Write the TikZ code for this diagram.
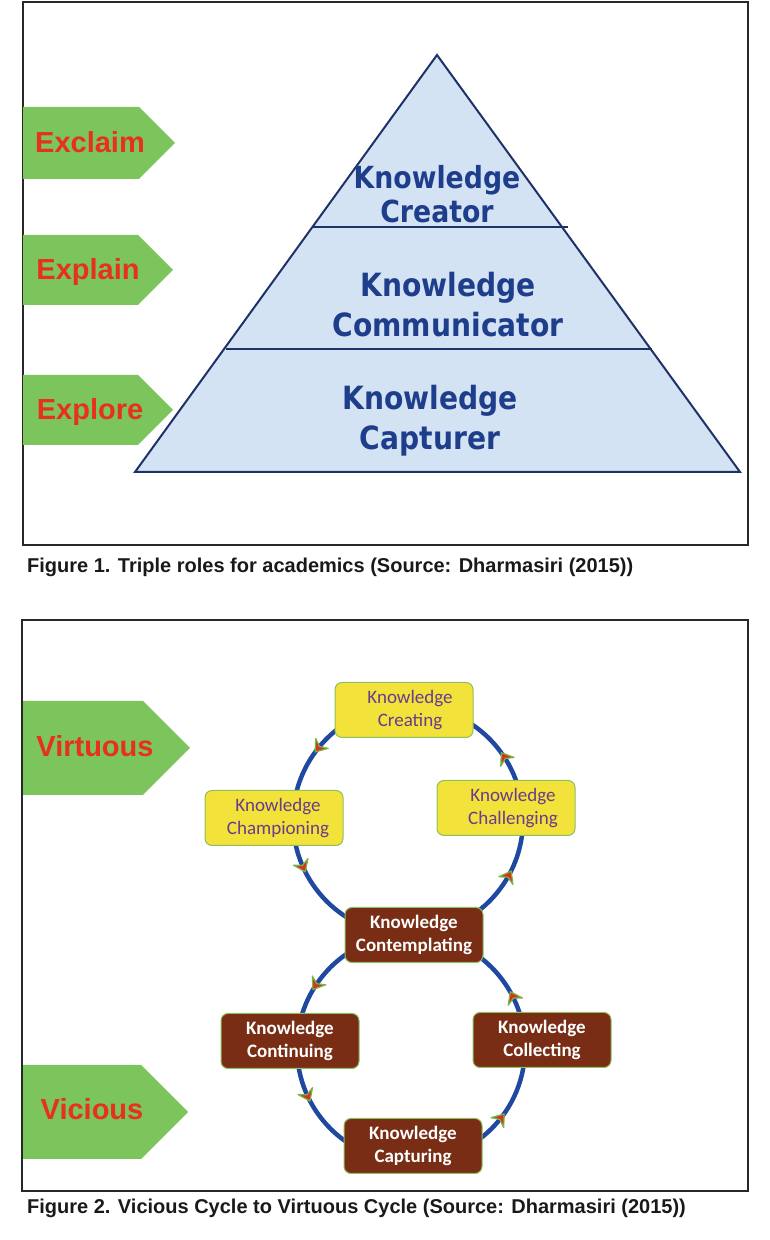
\documentclass[tikz,border=0pt]{standalone}
\usepackage{fontspec}
\usetikzlibrary{decorations.markings}
\newfontfamily\pyrfont[FakeStretch=0.88]{DejaVu Sans}
\newfontfamily\lblfont{Liberation Sans}
\newfontfamily\cycfont{Carlito}
\newfontfamily\capfont{Liberation Sans}
\definecolor{framec}{RGB}{40,40,40}
\definecolor{grn}{RGB}{124,196,92}
\definecolor{redtxt}{RGB}{232,48,30}
\definecolor{pyrfill}{RGB}{212,227,243}
\definecolor{pyrline}{RGB}{30,50,105}
\definecolor{pyrtxt}{RGB}{30,62,140}
\definecolor{ringblue}{RGB}{32,72,160}
\definecolor{yel}{RGB}{242,226,58}
\definecolor{boxedge}{RGB}{140,192,92}
\definecolor{purp}{RGB}{105,60,140}
\definecolor{brn}{RGB}{120,45,20}
\definecolor{arrred}{RGB}{215,50,30}
\definecolor{arrgrn}{RGB}{120,180,70}
\begin{document}
\begin{tikzpicture}[x=1pt,y=1pt,
  framebox/.style={draw=framec,line width=2pt},
  greenarrow/.style={fill=grn},
  lbl/.style={font=\lblfont\bfseries\fontsize{29}{32}\selectfont,text=redtxt,anchor=base,inner sep=0pt},
  pyrtext/.style={font=\pyrfont\bfseries\fontsize{32}{40}\selectfont,text=pyrtxt,align=center,inner sep=0pt},
  ring/.style={draw=ringblue,line width=4.5pt},
  mk/.style={postaction={decorate,decoration={markings,mark=at position #1 with {\filldraw[fill=arrred,draw=arrgrn,line width=1.2pt,line join=round] (5,0) -- (-6,8) -- (-2,0) -- (-6,-8) -- cycle;}}}},
  yelbox/.style={rectangle,rounded corners=7pt,fill=yel,draw=boxedge,line width=1pt,minimum width=138pt,minimum height=55pt,align=center,font=\cycfont\fontsize{19}{22.5}\selectfont,text=purp},
  brnbox/.style={rectangle,rounded corners=7pt,fill=brn,draw=boxedge,line width=1pt,minimum width=138pt,minimum height=55pt,align=center,font=\cycfont\bfseries\fontsize{19}{22.5}\selectfont,text=white},
  caption/.style={font=\capfont\bfseries\fontsize{20}{24}\selectfont,text=black!90,anchor=base west,inner sep=0pt}]
\useasboundingbox (0,0) rectangle (770,1240);

% ---------- Figure 1 ----------
\draw[framebox] (23,1238) rectangle (748,695);
\node[caption] (cap1) at (27,667) {Figure 1. Triple roles for academics (Source: Dharmasiri (2015))};

% pyramid
\filldraw[fill=pyrfill,draw=pyrline,line width=2pt,line join=miter] (437,1185) -- (740,768) -- (135,768) -- cycle;
\draw[pyrline,line width=1.3pt] (313,1013) -- (568,1013);
\draw[pyrline,line width=1.3pt] (226,891) -- (652,891);
\node[pyrtext,font=\pyrfont\bfseries\fontsize{30.4}{34}\selectfont] (creator) at (437,1046) {Knowledge\\Creator};
\node[pyrtext] (communicator) at (448,935) {Knowledge\\Communicator};
\node[pyrtext] (capturer) at (430,819) {Knowledge\\Capturer};

% green arrows
\fill[greenarrow] (23,1133) -- (139,1133) -- (175,1097) -- (139,1061) -- (23,1061) -- cycle;
\node[lbl] (exclaim) at (90,1087) {Exclaim};
\fill[greenarrow] (23,1005) -- (138,1005) -- (173,970) -- (138,935) -- (23,935) -- cycle;
\node[lbl] (explain) at (88,960) {Explain};
\fill[greenarrow] (23,865) -- (138,865) -- (173,830) -- (138,795) -- (23,795) -- cycle;
\node[lbl] (explore) at (90,820) {Explore};

% ---------- Figure 2 ----------
\draw[framebox] (22,620) rectangle (748,49);
\node[caption] (cap2) at (27,26) {Figure 2. Vicious Cycle to Virtuous Cycle (Source: Dharmasiri (2015))};

\fill[greenarrow] (23,539) -- (143,539) -- (190,492) -- (143,445) -- (23,445) -- cycle;
\node[lbl] (virtuous) at (95,483) {Virtuous};
\fill[greenarrow] (23,175) -- (141,175) -- (188,128) -- (141,81) -- (23,81) -- cycle;
\node[lbl] (vicious) at (92,120) {Vicious};

% circle anchor points
\coordinate (u0) at (523,420);
\coordinate (u90) at (408,535);
\coordinate (u180) at (293,420);
\coordinate (u270) at (408,305);
\coordinate (l90) at (411,306);
\coordinate (l180) at (297,192);
\coordinate (l270) at (411,78);
\coordinate (l0) at (525,192);

% upper (virtuous) cycle
\draw[ring,mk=0.68] (u270) arc[start angle=270,end angle=360,radius=115];
\draw[ring,mk=0.37] (u0) arc[start angle=0,end angle=90,radius=115];
\draw[ring,mk=0.57] (u90) arc[start angle=90,end angle=180,radius=115];
\draw[ring,mk=0.27] (u180) arc[start angle=180,end angle=270,radius=115];
% lower (vicious) cycle
\draw[ring,mk=0.63] (l90) arc[start angle=90,end angle=180,radius=114];
\draw[ring,mk=0.28] (l180) arc[start angle=180,end angle=270,radius=114];
\draw[ring,mk=0.58] (l270) arc[start angle=270,end angle=360,radius=114];
\draw[ring,mk=0.30] (l0) arc[start angle=0,end angle=90,radius=114];

% nodes
\node[yelbox] (creating) at (404,530) {\hspace*{12pt}Knowledge\\\hspace*{12pt}Creating};
\node[yelbox] (championing) at (274,422) {\hspace*{8pt}Knowledge\\\hspace*{8pt}Championing};
\node[yelbox] (challenging) at (506,432) {\hspace*{14pt}Knowledge\\\hspace*{14pt}Challenging};
\node[brnbox] (contemplating) at (414,305) {Knowledge\\Contemplating};
\node[brnbox] (continuing) at (290,199) {Knowledge\\Continuing};
\node[brnbox] (collecting) at (542,200) {Knowledge\\Collecting};
\node[brnbox] (capturing) at (413,94) {Knowledge\\Capturing};
\end{tikzpicture}
\end{document}
